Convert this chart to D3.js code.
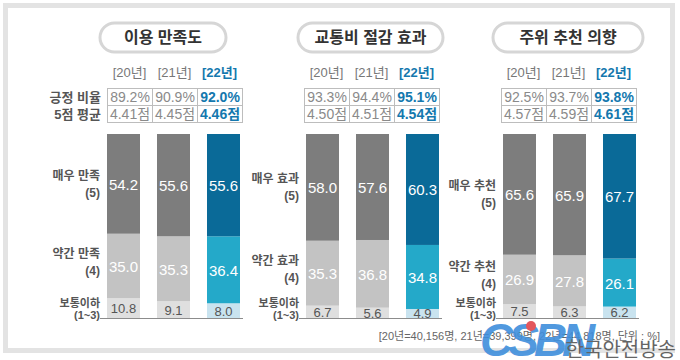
<!DOCTYPE html>
<html>
<head>
<meta charset="utf-8">
<script src="https://cdn.jsdelivr.net/npm/d3@7"></script>
<style>
  body { margin: 0; background: #fff; }
  svg text { font-family: "Liberation Sans", "Noto Sans CJK KR", sans-serif; }
</style>
</head>
<body>
<svg id="vis"></svg>
<script>
// data
const titles = ["이용 만족도", "교통비 절감 효과", "주위 추천 의향"];
const years = ["[20년]", "[21년]", "[22년]"];
const rowNames = ["긍정 비율", "5점 평균"];
const positiveRate = [[89.2, 90.9, 92.0], [93.3, 94.4, 95.1], [92.5, 93.7, 93.8]];
const avgScore = [[4.41, 4.45, 4.46], [4.50, 4.51, 4.54], [4.57, 4.59, 4.61]];
const veryValues = [[54.2, 55.6, 55.6], [58.0, 57.6, 60.3], [65.6, 65.9, 67.7]];
const someValues = [[35.0, 35.3, 36.4], [35.3, 36.8, 34.8], [26.9, 27.8, 26.1]];
const lowValues = [[10.8, 9.1, 8.0], [6.7, 5.6, 4.9], [7.5, 6.3, 6.2]];
const veryLabels = ["매우 만족", "매우 효과", "매우 추천"];
const someLabels = ["약간 만족", "약간 효과", "약간 추천"];
const lowLabel = "보통이하";
const footnote = "[20년=40,156명, 21년=39,399명, 22년=44,818명, 단위 : %]";

// layout
const width = 680, height = 360;
const panelX = [107, 306, 503];
const pillX = [100, 298, 493], pillW = [126, 145, 150];
const greys = ["#7d7d7d", "#c3c3c3", "#dfdfdf"];
const blues = ["#0a6a98", "#24a9c9", "#c9e3ef"];
const blueText = "#1478ae";

const svg = d3.select("#vis")
  .attr("width", width)
  .attr("height", height);

// outer frame
svg.append("rect")
  .attr("x", 5.5).attr("y", 5.5)
  .attr("width", 667).attr("height", 345)
  .attr("fill", "#fff")
  .attr("stroke", "#e3e3e3")
  .attr("stroke-width", 5);

const y = d3.scaleLinear().domain([0, 100]).range([318, 134]);

titles.forEach((title, p) => {
  const g = svg.append("g");
  const x = d3.scaleBand().domain(years).range([panelX[p], panelX[p] + 133]).paddingInner(0.34);
  const tx0 = panelX[p] - (p == 0 ? 0 : 2);
  const colW = 45;

  // title pill
  g.append("rect")
    .attr("x", pillX[p]).attr("y", 23)
    .attr("width", pillW[p]).attr("height", 29)
    .attr("rx", 14.5)
    .attr("fill", "#fff")
    .attr("stroke", "#d6d6d6")
    .attr("stroke-width", 3);
  g.append("text")
    .attr("x", pillX[p] + pillW[p] / 2).attr("y", 43)
    .attr("text-anchor", "middle")
    .style("font-size", "16px").style("font-weight", "bold")
    .attr("fill", "#333")
    .text(title);

  // year headers
  years.forEach((yr, i) => {
    g.append("text")
      .attr("x", tx0 + colW * i + colW / 2).attr("y", 77)
      .attr("text-anchor", "middle")
      .style("font-size", "13px")
      .style("font-weight", i == 2 ? "bold" : "normal")
      .attr("fill", i == 2 ? blueText : "#777")
      .text(yr);
  });

  // small table
  const rows = [positiveRate[p].map(v => v.toFixed(1) + "%"), avgScore[p].map(v => v.toFixed(2) + "점")];
  rows.forEach((row, r) => {
    row.forEach((t, i) => {
      g.append("rect")
        .attr("x", tx0 + colW * i + 0.5).attr("y", 88.5 + r * 17)
        .attr("width", colW).attr("height", 17)
        .attr("fill", "#fff").attr("stroke", "#bdbdbd");
      g.append("text")
        .attr("x", tx0 + colW * i + colW / 2 + 0.5).attr("y", 102 + r * 17)
        .attr("text-anchor", "middle")
        .style("font-size", "14px")
        .style("font-weight", i == 2 ? "bold" : "normal")
        .attr("fill", i == 2 ? blueText : "#8a8a8a")
        .text(t);
    });
  });
  if (p == 0) {
    rowNames.forEach((n, r) => {
      g.append("text")
        .attr("x", 101).attr("y", 102 + r * 17)
        .attr("text-anchor", "end")
        .style("font-size", "13px").style("font-weight", "bold")
        .attr("fill", "#555")
        .text(n);
    });
  }

  // stacked bars
  const table = years.map((yr, i) => ({ year: yr, low: lowValues[p][i], some: someValues[p][i], very: veryValues[p][i] }));
  const series = d3.stack().keys(["low", "some", "very"])(table);
  series.forEach((s, k) => {
    g.selectAll(null)
      .data(s)
      .join("rect")
        .attr("x", d => x(d.data.year))
        .attr("y", d => y(d[1]))
        .attr("width", x.bandwidth())
        .attr("height", d => y(d[0]) - y(d[1]))
        .attr("fill", (d, i) => i == 2 ? blues[2 - k] : greys[2 - k]);
    g.selectAll(null)
      .data(s)
      .join("text")
        .attr("x", d => x(d.data.year) + x.bandwidth() / 2)
        .attr("y", d => (y(d[0]) + y(d[1])) / 2 + (k == 0 ? 5 : 6))
        .attr("text-anchor", "middle")
        .style("font-size", k == 0 ? "13px" : "15px")
        .attr("fill", k == 0 ? "#555" : "#fff")
        .text(d => d.data[s.key].toFixed(1));
  });

  // baseline
  g.append("line")
    .attr("x1", panelX[p] - 7).attr("x2", panelX[p] + 136)
    .attr("y1", 318.5).attr("y2", 318.5)
    .attr("stroke", "#8c8c8c").attr("stroke-width", 1);

  // segment labels, next to the first bar
  const lx = panelX[p] - 7;
  const first = table[0];
  const cVery = (y(first.low + first.some) + y(100)) / 2;
  const cSome = (y(first.low) + y(first.low + first.some)) / 2;
  const lab = [[veryLabels[p], "(5)", cVery - 4], [someLabels[p], "(4)", cSome - 8]];
  lab.forEach(l => {
    g.append("text").attr("x", lx).attr("y", l[2])
      .attr("text-anchor", "end").style("font-size", "12px").style("font-weight", "bold")
      .attr("fill", "#555").text(l[0]);
    g.append("text").attr("x", lx).attr("y", l[2] + 17)
      .attr("text-anchor", "end").style("font-size", "12px").style("font-weight", "bold")
      .attr("fill", "#555").text(l[1]);
  });
  g.append("text").attr("x", lx).attr("y", 307)
    .attr("text-anchor", "end").style("font-size", "11px").style("font-weight", "bold")
    .attr("fill", "#555").text(lowLabel);
  g.append("text").attr("x", lx).attr("y", 319)
    .attr("text-anchor", "end").style("font-size", "11px").style("font-weight", "bold")
    .attr("fill", "#555").text("(1~3)");
});

// footnote
svg.append("text")
  .attr("x", 660).attr("y", 340)
  .attr("text-anchor", "end")
  .style("font-size", "11px")
  .attr("fill", "#666")
  .text(footnote);

// watermark
const wm = svg.append("g").attr("opacity", 0.9);
wm.append("text")
  .attr("x", 480).attr("y", 356)
  .style("font-size", "46px").style("font-weight", "bold").style("font-style", "italic")
  .style("letter-spacing", "-5px")
  .attr("fill", "#3f8fdc")
  .text("CSBN");
wm.append("circle").attr("cx", 531).attr("cy", 326).attr("r", 5).attr("fill", "#e0454c");
wm.append("text")
  .attr("x", 676).attr("y", 357)
  .attr("text-anchor", "end")
  .style("font-size", "20px")
  .attr("fill", "#555")
  .text("한국안전방송");
</script>
</body>
</html>
